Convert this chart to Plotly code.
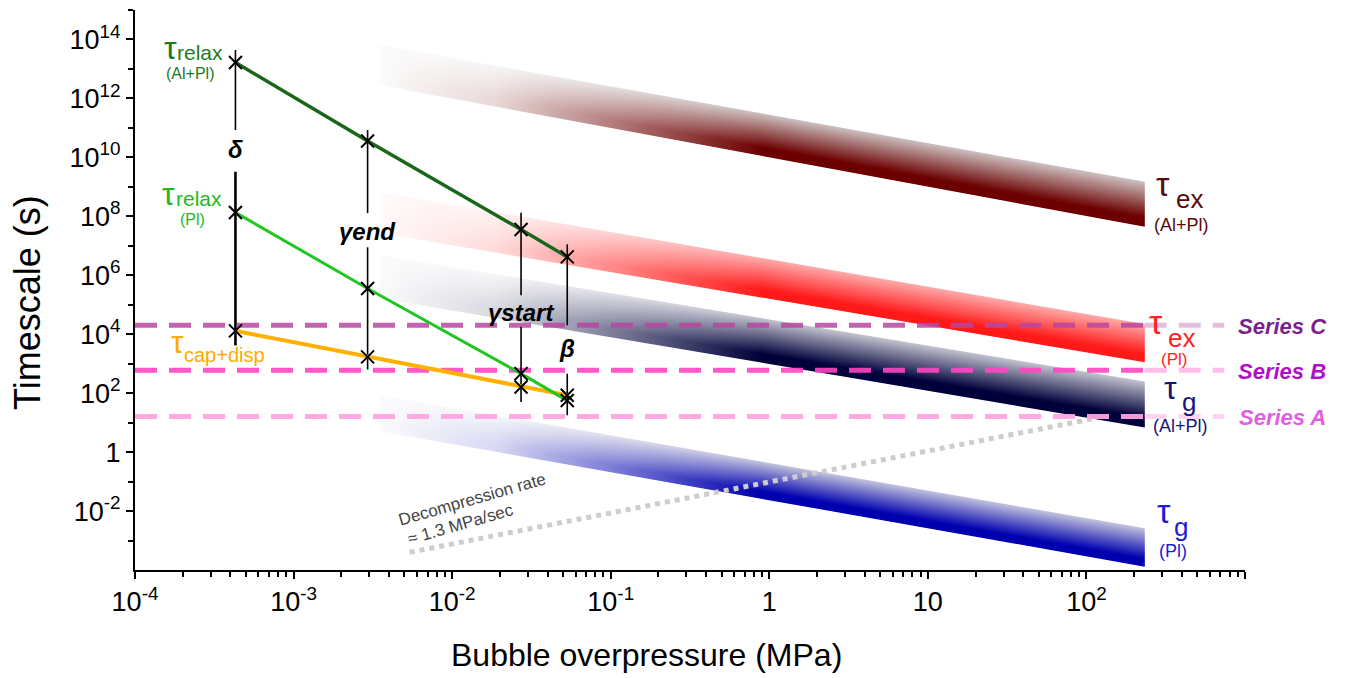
import math
import plotly.graph_objects as go

# ---------------- data ----------------
overpressure = [4.3e-4, 2.93e-3, 2.72e-2, 5.32e-2]          # MPa
tau_relax_alpl = [1.66e13, 3.6e10, 3.55e7, 4.2e6]          # s
tau_relax_pl = [1.35e8, 3.55e5, 4.6e2, 5.6e1]
tau_cap_disp = [1.3e4, 1.7e3, 1.62e2, 8.5e1]

# vertical comparison bars (s): top, gap start, gap end, bottom
bar_top = [4.4e13, 8.5e10, 1.32e8, 1.12e7]
bar_gap_top = [8.5e10, 1.29e8, 2.09e5, 2.0e4]
bar_gap_bottom = [3.24e9, 8.9e6, 1.78e4, 4.57e2]
bar_bottom = [4.17e3, 6.31e2, 5.0e1, 1.78e1]
bar_labels = ["δ", "γend", "γstart", "β"]
bar_label_tau = [1.78e10, 3.0e7, 5.25e4, 3.3e3]

# horizontal reference series (s)
series_names = ["Series C", "Series B", "Series A"]
series_tau = [2.0e4, 6.0e2, 1.6e1]
series_end_dp = [2.33e2, 7.4e2]

# gradient bands (tau ~ 1/overpressure)
band_names = ["tex_alpl", "tex_pl", "tg_alpl", "tg_pl"]
band_dp = [3.5e-3, 2.33e2]
band_top_left = [6.46e13, 6.6e8, 4.8e6, 8.5e1]
band_bottom_left = [2.8e12, 2.7e7, 1.66e5, 5.1]
band_top_right = [1.48e9, 2.2e4, 2.51e2, 2.6e-3]
band_bottom_right = [4.4e7, 1.12e3, 6.9, 1.3e-4]

# decompression-rate line
decomp_dp = [5.4e-3, 1.13e2]
decomp_tau = [4.0e-4, 1.4e1]

# tick labels
x_tick_vals = [1e-4, 1e-3, 1e-2, 1e-1, 1, 10, 1e2, 1e3]
x_tick_text = ["10<sup>-4</sup>", "10<sup>-3</sup>", "10<sup>-2</sup>", "10<sup>-1</sup>",
               "1", "10", "10<sup>2</sup>", ""]
y_tick_vals = [1e-2, 1, 1e2, 1e4, 1e6, 1e8, 1e10, 1e12, 1e14]
y_tick_text = ["10<sup>-2</sup>", "1", "10<sup>2</sup>", "10<sup>4</sup>", "10<sup>6</sup>",
               "10<sup>8</sup>", "10<sup>10</sup>", "10<sup>12</sup>", "10<sup>14</sup>"]
y_minor_vals = [1e-3, 1e-1, 1e1, 1e3, 1e5, 1e7, 1e9, 1e11, 1e13, 1e15]
x_minor_vals = [k * 10.0 ** e for e in range(-4, 3) for k in range(2, 10)]

# ---------------- styling ----------------
FONT = "Liberation Sans, Arial, sans-serif"
band_dark = [(108, 0, 0), (255, 25, 25), (0, 0, 58), (0, 0, 175)]
band_light = [(205, 192, 192), (255, 170, 170), (195, 195, 208), (195, 195, 222)]
series_colors = ["rgba(185,70,160,0.85)", "rgba(255,70,195,0.9)", "rgba(255,165,222,0.95)"]
series_ext_colors = ["rgba(200,110,180,0.45)", "rgba(255,110,205,0.45)", "rgba(255,170,225,0.5)"]
series_label_colors = ["#7b1f8f", "#b10dc9", "#e35de3"]

W, H = 1349, 678
ML, MR, MT, MB = 135, 104, 10, 108
PW, PH = W - ML - MR, H - MT - MB


def paper(px, py):
    return (px - ML) / PW, (H - MB - py) / PH


def lerp(a, b, t):
    return a + (b - a) * t


def mix(c1, c2, t):
    return tuple(int(round(lerp(a, b, t))) for a, b in zip(c1, c2))


def rgb(c):
    return "rgb(%d,%d,%d)" % c


fig = go.Figure()

# gradient bands, built from thin overlapping strips each with a horizontal gradient
NSTRIP = 24
WHITE = (255, 255, 255)
for b in range(len(band_names)):
    tl, bl = math.log10(band_top_left[b]), math.log10(band_bottom_left[b])
    tr, br = math.log10(band_top_right[b]), math.log10(band_bottom_right[b])
    xl, xr = band_dp
    for i in range(NSTRIP):
        t0 = i / NSTRIP
        t1 = 1.0 if i == NSTRIP - 1 else (i + 1.6) / NSTRIP
        s = min(1.0, ((i + 0.5) / NSTRIP) / 0.8)
        c = mix(band_light[b], band_dark[b], s)
        cs = [[0, rgb(mix(WHITE, band_light[b], 0.06))], [0.15, rgb(mix(WHITE, c, 0.15))],
              [0.32, rgb(mix(WHITE, c, 0.55))], [0.5, rgb(c)], [1, rgb(c)]]
        ys = [10 ** lerp(tl, bl, t0), 10 ** lerp(tr, br, t0),
              10 ** lerp(tr, br, t1), 10 ** lerp(tl, bl, t1)]
        fig.add_trace(go.Scatter(
            x=[xl, xr, xr, xl, xl], y=ys + [ys[0]], mode="lines",
            line=dict(width=0), fill="toself",
            fillgradient=dict(type="horizontal", colorscale=cs),
            hoverinfo="skip", showlegend=False))

# decompression dotted line
fig.add_trace(go.Scatter(x=decomp_dp, y=decomp_tau, mode="lines",
                         line=dict(color="#cdcdcd", width=5, dash="dot"),
                         hoverinfo="skip", showlegend=False))

# horizontal dashed series lines
for i, tau in enumerate(series_tau):
    fig.add_trace(go.Scatter(x=[1e-4, series_end_dp[0]], y=[tau, tau], mode="lines",
                             line=dict(color=series_colors[i], width=5, dash="22px,12px"),
                             hoverinfo="skip", showlegend=False))
    fig.add_trace(go.Scatter(x=series_end_dp, y=[tau, tau], mode="lines",
                             line=dict(color=series_ext_colors[i], width=5, dash="22px,12px"),
                             hoverinfo="skip", showlegend=False))

# vertical comparison bars
for i, x in enumerate(overpressure):
    fig.add_trace(go.Scatter(x=[x, x], y=[bar_top[i], bar_gap_top[i]], mode="lines",
                             line=dict(color="black", width=1.6),
                             hoverinfo="skip", showlegend=False))
    fig.add_trace(go.Scatter(x=[x, x], y=[bar_gap_bottom[i], bar_bottom[i]], mode="lines",
                             line=dict(color="black", width=2.6 if i == 0 else 1.6),
                             hoverinfo="skip", showlegend=False))

# timescale curves
fig.add_trace(go.Scatter(x=overpressure, y=tau_cap_disp, mode="lines",
                         line=dict(color="#ffb000", width=4), showlegend=False))
fig.add_trace(go.Scatter(x=overpressure, y=tau_relax_pl, mode="lines",
                         line=dict(color="#22c522", width=3), showlegend=False))
fig.add_trace(go.Scatter(x=overpressure, y=tau_relax_alpl, mode="lines",
                         line=dict(color="#1a661a", width=3.5), showlegend=False))
for arr in (tau_relax_alpl, tau_relax_pl, tau_cap_disp):
    fig.add_trace(go.Scatter(x=overpressure, y=arr, mode="markers",
                             marker=dict(symbol="x-thin", size=13, color="black",
                                         line=dict(width=2, color="black")),
                             showlegend=False))

annotations = []


def ann(text, px, py, size, color, angle=0):
    x, y = paper(px, py)
    annotations.append(dict(text=text, x=x, y=y, xref="paper", yref="paper",
                            showarrow=False, xanchor="center", yanchor="middle",
                            textangle=angle, font=dict(family=FONT, size=size, color=color)))


# bar labels (data positions)
for i, lab in enumerate(bar_labels):
    annotations.append(dict(text="<b><i>%s</i></b>" % lab, x=math.log10(overpressure[i]),
                            y=math.log10(bar_label_tau[i]), xref="x", yref="y",
                            showarrow=False, xanchor="center", yanchor="middle",
                            font=dict(family=FONT, size=24, color="black")))

# curve labels
ann("τ", 170, 48, 32, "#1f7a1f"); ann("relax", 200, 53, 21, "#1f7a1f"); ann("(Al+Pl)", 190, 73, 16, "#1f7a1f")
ann("τ", 168, 194, 32, "#22b822"); ann("relax", 199, 198, 21, "#22b822"); ann("(Pl)", 192, 219, 16, "#22b822")
ann("τ", 177, 342, 32, "#ffaa00"); ann("cap+disp", 224, 355, 20, "#ffaa00")
ann("τ", 1163, 184, 34, "#5a0a0a"); ann("ex", 1189, 199, 26, "#5a0a0a"); ann("(Al+Pl)", 1181, 225, 18, "#5a0a0a")
ann("τ", 1156, 322, 34, "#ff2020"); ann("ex", 1181, 338, 26, "#ff2020"); ann("(Pl)", 1174, 359, 17, "#ff2020")
ann("τ", 1170, 388, 32, "#15157a"); ann("g", 1189, 402, 26, "#15157a"); ann("(Al+Pl)", 1180, 426, 18, "#15157a")
ann("τ", 1164, 511, 34, "#1c1cd6"); ann("g", 1181, 527, 26, "#1c1cd6"); ann("(Pl)", 1173, 551, 18, "#1c1cd6")

# series labels
series_label_py = [326, 372, 417]
for i, name in enumerate(series_names):
    ann("<b><i>%s</i></b>" % name, 1282, series_label_py[i], 22, series_label_colors[i])

# decompression text
ann("Decompression rate", 472, 499, 17, "#444444", -16)
ann("≈ 1.3 MPa/sec", 460, 524, 17, "#444444", -16)

# axis titles
ann("Timescale (s)", 28, 303, 36, "black", -90)
ann("Bubble overpressure (MPa)", 646, 655, 32, "black")

axis_common = dict(type="log", showgrid=False, zeroline=False, showline=True,
                   linecolor="black", linewidth=2, ticks="outside", ticklen=7,
                   tickwidth=2, tickcolor="black", automargin=False,
                   tickfont=dict(family=FONT, size=27, color="black"))

fig.update_layout(
    width=W, height=H, template="none",
    margin=dict(l=ML, r=MR, t=MT, b=MB, pad=0),
    paper_bgcolor="white", plot_bgcolor="white", showlegend=False,
    xaxis=dict(range=[-4, 3], tickmode="array", tickvals=x_tick_vals, ticktext=x_tick_text,
               minor=dict(tickmode="array", tickvals=x_minor_vals, ticks="outside",
                          ticklen=5, tickwidth=1.5, tickcolor="black"),
               **axis_common),
    yaxis=dict(range=[-4, 15], tickmode="array", tickvals=y_tick_vals, ticktext=y_tick_text,
               minor=dict(tickmode="array", tickvals=y_minor_vals, ticks="outside",
                          ticklen=5, tickwidth=1.5, tickcolor="black"),
               **axis_common),
    annotations=annotations,
)

fig.write_html("out.html")
